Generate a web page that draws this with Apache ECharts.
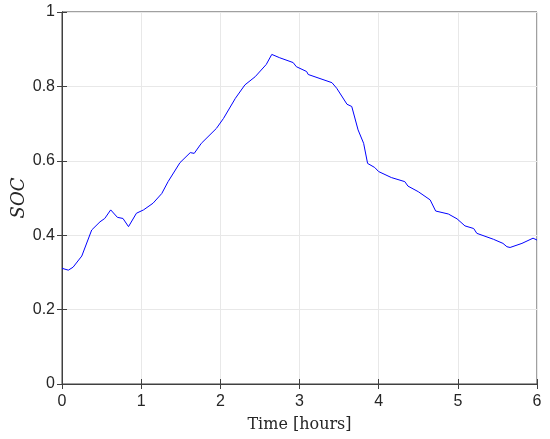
<!DOCTYPE html>
<html>
<head>
<meta charset="utf-8">
<script src="https://cdn.jsdelivr.net/npm/echarts@6/dist/echarts.min.js"></script>
<style>
  html, body { margin: 0; padding: 0; background: #fff; }
  #main { width: 550px; height: 439px; }
</style>
</head>
<body>
<div id="main"></div>
<script>
  // time in hours
  var hours = [0, 0.08, 0.14, 0.25, 0.375, 0.48, 0.54, 0.615, 0.70, 0.77, 0.84, 0.94, 1.03, 1.15, 1.26, 1.34,
    1.49, 1.62, 1.67, 1.76, 1.95, 2.04, 2.19, 2.31, 2.44, 2.58, 2.65, 2.75, 2.92, 2.96, 3.09, 3.11,
    3.41, 3.47, 3.60, 3.66, 3.74, 3.81, 3.86, 3.95, 4.00, 4.16, 4.33, 4.37, 4.50, 4.65, 4.72, 4.88,
    4.99, 5.09, 5.20, 5.24, 5.45, 5.57, 5.62, 5.66, 5.81, 5.95, 6.0]
  var soc = [0.311, 0.306, 0.314, 0.344, 0.414, 0.436, 0.445, 0.468, 0.448, 0.445, 0.423, 0.459, 0.468, 0.486, 0.512, 0.544,
    0.595, 0.622, 0.620, 0.647, 0.687, 0.714, 0.768, 0.804, 0.826, 0.859, 0.886, 0.877, 0.864, 0.853, 0.840, 0.832,
    0.810, 0.795, 0.752, 0.746, 0.683, 0.647, 0.593, 0.582, 0.571, 0.555, 0.544, 0.532, 0.517, 0.495, 0.465, 0.457,
    0.444, 0.425, 0.418, 0.405, 0.389, 0.378, 0.369, 0.367, 0.378, 0.392, 0.387]

  var chart = echarts.init(document.getElementById('main'))
  var axisCol = '#404040'
  var tickFont = { color: '#262626', fontFamily: 'Liberation Sans', fontSize: 16 }

  var points = hours.map(function (h, i) { return [h, soc[i]] })

  chart.setOption({
    animation: false,
    grid: {
      left: 62, right: 13, top: 12, bottom: 55,
      outerBoundsMode: 'none',
      show: true, borderColor: axisCol, borderWidth: 1
    },
    xAxis: [{
      type: 'value', min: 0, max: 6, interval: 1,
      name: 'Time [hours]', nameLocation: 'middle', nameGap: 33,
      nameTextStyle: { fontFamily: 'DejaVu Serif', fontSize: 16, color: '#262626' },
      axisLine: { show: true, lineStyle: { color: axisCol } },
      axisTick: { show: true, inside: true, length: 5, lineStyle: { color: axisCol } },
      axisLabel: Object.assign({ margin: 10 }, tickFont),
      splitLine: { show: true, lineStyle: { color: '#e8e8e8' } }
    }, {
      type: 'value', min: 0, max: 6, interval: 1, position: 'top',
      axisLine: { show: true, lineStyle: { color: axisCol } },
      axisTick: { show: true, inside: true, length: 5, lineStyle: { color: axisCol } },
      axisLabel: { show: false },
      splitLine: { show: false }
    }],
    yAxis: [{
      type: 'value', min: 0, max: 1, interval: 0.2,
      name: 'SOC', nameLocation: 'middle', nameGap: 34, nameRotate: 90,
      nameMoveOverlap: false,
      nameTextStyle: { fontFamily: 'DejaVu Serif', fontStyle: 'italic', fontSize: 18, color: '#262626' },
      axisLine: { show: true, lineStyle: { color: axisCol } },
      axisTick: { show: true, inside: true, length: 5, lineStyle: { color: axisCol } },
      axisLabel: Object.assign({ margin: 7, formatter: function (v) { return +v.toFixed(1) + '' } }, tickFont),
      splitLine: { show: true, lineStyle: { color: '#e8e8e8' } }
    }, {
      type: 'value', min: 0, max: 1, interval: 0.2, position: 'right',
      axisLine: { show: true, lineStyle: { color: axisCol } },
      axisTick: { show: true, inside: true, length: 5, lineStyle: { color: axisCol } },
      axisLabel: { show: false },
      splitLine: { show: false }
    }],
    series: [{
      type: 'line',
      data: points,
      showSymbol: false,
      lineStyle: { color: '#0000ff', width: 1 }
    }]
  })
</script>
</body>
</html>
